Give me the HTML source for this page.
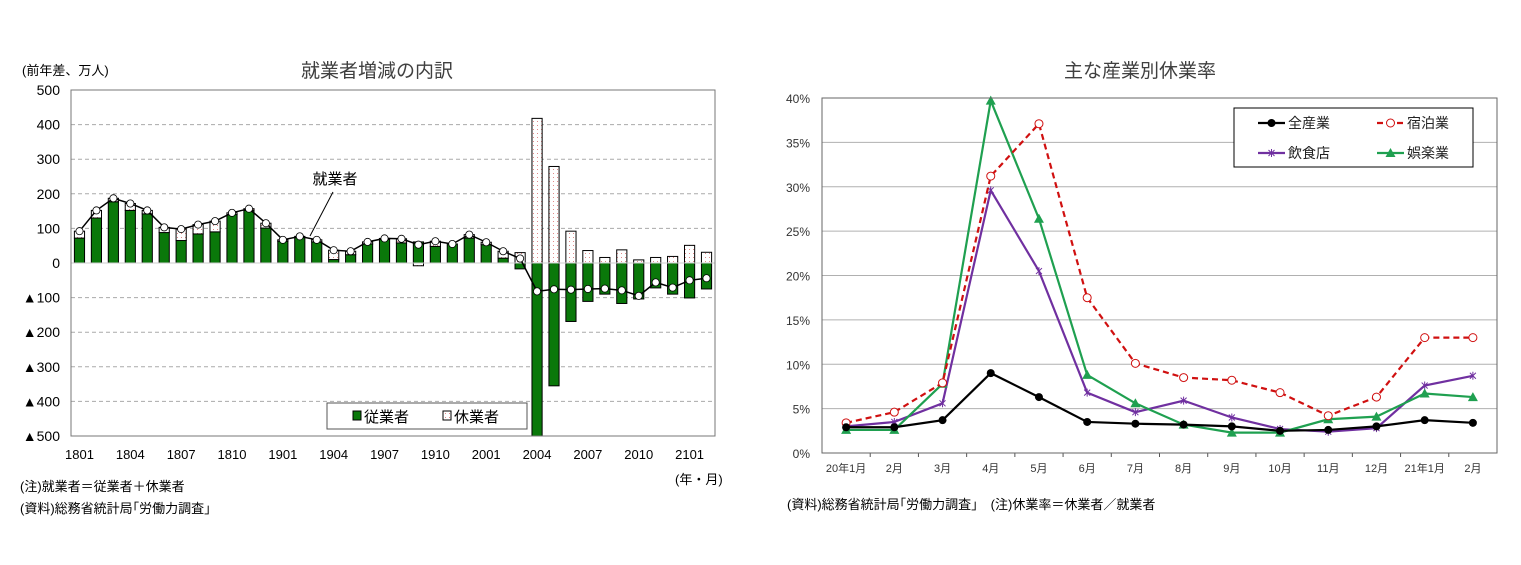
<!DOCTYPE html>
<html><head><meta charset="utf-8"><style>
body{margin:0;background:#fff;width:1521px;height:560px;overflow:hidden;font-family:"Liberation Sans","Noto Sans CJK JP",sans-serif}
svg text{font-family:"Liberation Sans","Noto Sans CJK JP",sans-serif}
</style></head><body>
<svg id="s" width="1521" height="560" xmlns="http://www.w3.org/2000/svg">
<defs><pattern id="dots" width="4" height="4" patternUnits="userSpaceOnUse"><rect width="4" height="4" fill="#fff"/><rect x="1" y="1" width="1" height="1" fill="#e08a8a"/></pattern></defs>
<text x="377" y="77" font-size="19" fill="#404040" text-anchor="middle">就業者増減の内訳</text>
<text x="22" y="75" font-size="13" fill="#000">(前年差、万人)</text>
<text x="1140" y="77" font-size="19" fill="#404040" text-anchor="middle">主な産業別休業率</text>
<g id="L"></g><g id="R"></g>
<text x="675" y="484" font-size="13">(年・月)</text>
<text x="20" y="491" font-size="13">(注)就業者＝従業者＋休業者</text>
<text x="20" y="513" font-size="13">(資料)総務省統計局｢労働力調査｣</text>
<text x="787" y="509" font-size="13">(資料)総務省統計局｢労働力調査｣　(注)休業率＝休業者／就業者</text>
</svg>
<script>
const months=["1801","1802","1803","1804","1805","1806","1807","1808","1809","1810","1811","1812","1901","1902","1903","1904","1905","1906","1907","1908","1909","1910","1911","1912","2001","2002","2003","2004","2005","2006","2007","2008","2009","2010","2011","2012","2101","2102"];
const employed=[72,130,177,152,142,88,65,84,90,140,152,101,63,74,61,10,24,55,68,58,61,48,55,72,53,14,-17,-500,-355,-169,-111,-90,-117,-104,-72,-90,-101,-75];
const absent=[20,22,10,20,10,15,33,27,31,5,5,14,4,3,6,27,10,6,3,12,-8,15,0,10,7,20,30,418,279,92,36,16,38,9,16,19,51,31];
const leftTicks=[500,400,300,200,100,0,-100,-200,-300,-400,-500];
const cats=["20年1月","2月","3月","4月","5月","6月","7月","8月","9月","10月","11月","12月","21年1月","2月"];
const allInd=[2.9,2.9,3.7,9.0,6.3,3.5,3.3,3.2,3.0,2.5,2.6,3.0,3.7,3.4];
const lodging=[3.4,4.6,7.9,31.2,37.1,17.5,10.1,8.5,8.2,6.8,4.2,6.3,13.0,13.0];
const food=[3.0,3.5,5.6,29.6,20.5,6.8,4.6,5.9,4.0,2.7,2.4,2.8,7.6,8.7];
const leisure=[2.6,2.6,7.8,39.7,26.4,8.8,5.6,3.2,2.3,2.3,3.8,4.1,6.7,6.3];
const rightTicks=[0,5,10,15,20,25,30,35,40];
const NS="http://www.w3.org/2000/svg";
function mk(p,t,a,txt){const e=document.createElementNS(NS,t);for(const k in a)e.setAttribute(k,a[k]);if(txt!=null)e.textContent=txt;p.appendChild(e);return e;}
// LEFT
const L=document.getElementById('L');
const lx0=71,lx1=715,ly0=90,ly1=436;
const ly=v=>ly0+(500-v)/1000*(ly1-ly0);
const bw=(lx1-lx0)/months.length;
const lx=i=>lx0+bw*(i+0.5);
leftTicks.forEach(t=>{
 if(t!==500&&t!==-500&&t!==0){const g=mk(L,'line',{x1:lx0,x2:lx1,y1:ly(t),y2:ly(t),stroke:'#aaa','stroke-dasharray':'4,3'});
 
 }
 const tx=mk(L,'text',{x:60,y:ly(t)+5,'font-size':14,'text-anchor':'end'},t<0?'▲'+(-t):String(t));
 
 
});
months.forEach((m,i)=>{
 const w=bw*0.6,x=lx(i)-w/2,e=employed[i],a=absent[i];
 const r1=mk(L,'rect',{x:x,y:Math.min(ly(0),ly(e)),width:w,height:Math.abs(ly(e)-ly(0)),fill:'#0a780a',stroke:'#000','stroke-width':1});
 
 
 const base=(a>=0)?Math.max(e,0):Math.min(e,0);
 const r2=mk(L,'rect',{x:x,y:Math.min(ly(base),ly(base+a)),width:w,height:Math.abs(ly(base+a)-ly(base)),fill:'url(#dots)',stroke:'#000','stroke-width':1});
 
 
 if(i%3===0){const t=mk(L,'text',{x:lx(i),y:459,'font-size':13,'text-anchor':'middle'},m);
 
 }
});
const z=mk(L,'line',{x1:lx0,x2:lx1,y1:ly(0),y2:ly(0),stroke:'#ccc'});


const tot=months.map((m,i)=>employed[i]+absent[i]);
const pl=mk(L,'polyline',{points:tot.map((v,i)=>lx(i)+','+ly(v)).join(' '),fill:'none',stroke:'#000','stroke-width':1.5});


tot.forEach((v,i)=>{const c=mk(L,'circle',{cx:lx(i),cy:ly(v),r:3.6,fill:'#fff',stroke:'#000','stroke-width':0.8});
 
 });
const fr=mk(L,'rect',{x:lx0,y:ly0,width:lx1-lx0,height:ly1-ly0,fill:'none',stroke:'#777'});


const an=mk(L,'text',{x:335,y:184,'font-size':15,'text-anchor':'middle'},'就業者');


const al=mk(L,'line',{x1:333,y1:192,x2:310,y2:236,stroke:'#000'});


const lg=mk(L,'g',{});


mk(lg,'rect',{x:327,y:403,width:200,height:26,fill:'#fff',stroke:'#555'});
mk(lg,'rect',{x:353,y:411,width:8,height:9,fill:'#0a780a',stroke:'#000'});
mk(lg,'text',{x:364,y:422,'font-size':15},'従業者');
mk(lg,'rect',{x:443,y:411,width:8,height:9,fill:'url(#dots)',stroke:'#000'});
mk(lg,'text',{x:454,y:422,'font-size':15},'休業者');
// RIGHT
const R=document.getElementById('R');
const rx0=822,rx1=1497,ry0=98,ry1=453;
const ry=v=>ry1-v/40*(ry1-ry0);
const cw=(rx1-rx0)/cats.length;
const rx=i=>rx0+cw*(i+0.5);
rightTicks.forEach(t=>{
 if(t>0){const g=mk(R,'line',{x1:rx0,x2:rx1,y1:ry(t),y2:ry(t),stroke:'#b0b0b0'});
 
 }
 const tx=mk(R,'text',{x:810,y:ry(t)+5,'font-size':12,'text-anchor':'end',fill:'#333'},t+'%');
 
 
});
cats.forEach((c,i)=>{
 const t=mk(R,'text',{x:rx(i),y:472,'font-size':11,'text-anchor':'middle',fill:'#333'},c);
 
 
 if(i>0){const k=mk(R,'line',{x1:rx0+cw*i,x2:rx0+cw*i,y1:ry1,y2:ry1+4,stroke:'#555'});
 
 }
});
function marker(g,type,x,y,col){
 if(type==='dot')mk(g,'circle',{cx:x,cy:y,r:4,fill:col});
 else if(type==='ring')mk(g,'circle',{cx:x,cy:y,r:4,fill:'#fff',stroke:col,'stroke-width':1});
 else if(type==='x'){mk(g,'path',{d:`M${x-3},${y-3}L${x+3},${y+3}M${x+3},${y-3}L${x-3},${y+3}M${x},${y-4}L${x},${y+4}`,stroke:col,'stroke-width':1});}
 else mk(g,'path',{d:`M${x},${y-5}L${x+5},${y+4}L${x-5},${y+4}Z`,fill:col});
}
const series=[[food,'#7030a0','x','',"food"],[leisure,'#1fa050','tri','',"leisure"],[lodging,'#d01010','ring','6,4',"lodging"],[allInd,'#000','dot','',"all-industries"]];
series.forEach(([d,col,m,dash,nm])=>{
 const g=mk(R,'g',{});
 
 
 mk(g,'polyline',{points:d.map((v,i)=>rx(i)+','+ry(v)).join(' '),fill:'none',stroke:col,'stroke-width':2.2,'stroke-dasharray':dash});
 d.forEach((v,i)=>marker(g,m,rx(i),ry(v),col));
});
const rf=mk(R,'rect',{x:rx0,y:ry0,width:rx1-rx0,height:ry1-ry0,fill:'none',stroke:'#666'});


const rl=mk(R,'g',{});


mk(rl,'rect',{x:1234,y:108,width:239,height:59,fill:'#fff',stroke:'#000'});
[[1258,123,'#000','dot','','全産業'],[1377,123,'#d01010','ring','6,4','宿泊業'],[1258,153,'#7030a0','x','','飲食店'],[1377,153,'#1fa050','tri','','娯楽業']].forEach(([x,y,col,m,dash,lab])=>{
 mk(rl,'line',{x1:x,x2:x+27,y1:y,y2:y,stroke:col,'stroke-width':2.2,'stroke-dasharray':dash});
 marker(rl,m,x+13.5,y,col);
 mk(rl,'text',{x:x+30,y:y+5,'font-size':14,fill:'#222'},lab);
});
</script>
</body></html>
